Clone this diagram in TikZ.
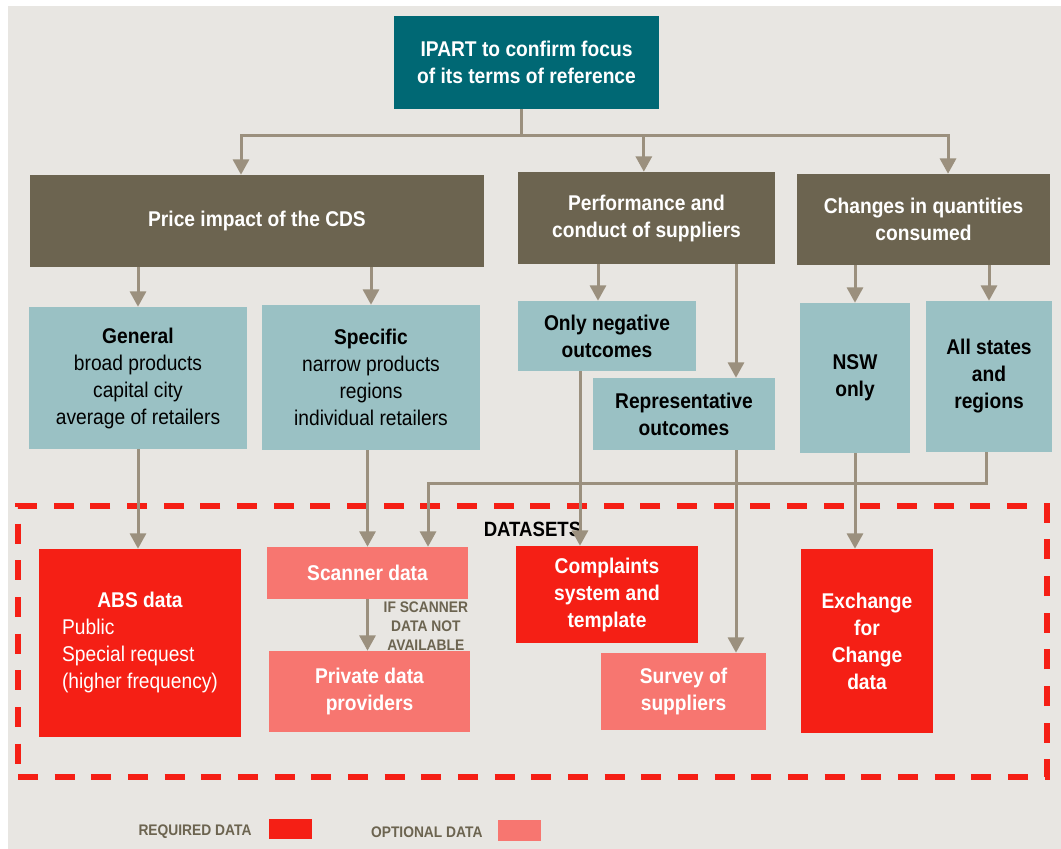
\documentclass[tikz,border=0pt]{standalone}
\usepackage{fontspec}
\setmainfont{Liberation Sans}[FakeStretch=0.9]
\usetikzlibrary{arrows.meta,positioning}

\definecolor{bggrey}{RGB}{232,230,226}
\definecolor{ipartteal}{RGB}{0,104,116}
\definecolor{topicbrown}{RGB}{108,100,80}
\definecolor{aspectblue}{RGB}{154,193,196}
\definecolor{reqred}{RGB}{245,31,21}
\definecolor{optred}{RGB}{247,118,112}
\definecolor{linkgrey}{RGB}{155,144,126}

\tikzset{
  box/.style={inner sep=0pt, align=center, font=\fontsize{16}{20.25}\selectfont\bfseries},
  lead/.style={box, fill=ipartteal, text=white},
  topic/.style={box, fill=topicbrown, text=white},
  aspect/.style={box, fill=aspectblue, text=black},
  required/.style={box, fill=reqred, text=white},
  optional/.style={box, fill=optred, text=white},
  link/.style={draw=linkgrey, line width=2.25pt},
  flow/.style={link, -{Triangle[width=12pt,length=11.5pt]}},
  legendtext/.style={inner sep=0pt, font=\fontsize{11.5}{14.25}\selectfont\bfseries, text=topicbrown},
}

\begin{document}
\begin{tikzpicture}[x=0.75pt,y=-0.75pt]
        \useasboundingbox (0,0) rectangle (1061,849);
        \fill[bggrey] (8,6) rectangle (1061,849);

        % datasets frame
        \node[draw=reqred, line width=4pt, dash pattern=on 15pt off 12.5pt,
              minimum width=771.75pt, minimum height=203.25pt] (dsframe) at (532.5,641.5) {};
        \node[font=\fontsize{15.5}{18}\selectfont\bfseries] (dslabel) at ([yshift=-19.5pt]dsframe.north) {DATASETS};

        \node[lead, minimum width=198.75pt, minimum height=69.75pt] (ipart) at (526.5,62.5) {IPART to confirm focus\\of its terms of reference};

        \node[topic, minimum width=340.5pt, minimum height=69pt] (price) at (257,221) {Price impact of the CDS};
        \node[topic, minimum width=192.75pt, minimum height=69pt] (perf) at (646.5,218) {Performance and\\conduct of suppliers};
        \node[topic, minimum width=189.75pt, minimum height=68.25pt] (changes) at (923.5,219.5) {Changes in quantities\\consumed};

        \node[aspect, minimum width=163.5pt, minimum height=106.5pt] (general) at (138,378) {General\\\mdseries broad products\\\mdseries capital city\\\mdseries average of retailers};
        \node[aspect, minimum width=163.5pt, minimum height=108.75pt] (specific) at (371,377.5) {Specific\\\mdseries narrow products\\\mdseries regions\\\mdseries individual retailers};
        \node[aspect, minimum width=133.5pt, minimum height=52.5pt] (onlyneg) at (607,336) {Only negative\\outcomes};
        \node[aspect, minimum width=136.5pt, minimum height=54pt] (repr) at (684,414) {Representative\\outcomes};
        \node[aspect, minimum width=82.5pt, minimum height=112.5pt] (nsw) at (855,378) {NSW\\only};
        \node[aspect, minimum width=94.5pt, minimum height=113.25pt] (allst) at (989,376.5) {All states\\and\\regions};

        \node[required, minimum width=151.5pt, minimum height=141pt] (abs) at (140,643) {\begin{tabular}{@{}l@{}}\multicolumn{1}{c}{ABS data}\\ \mdseries Public\\ \mdseries Special request\\ \mdseries (higher frequency)\end{tabular}};
        \node[optional, minimum width=150.75pt, minimum height=39pt] (scanner) at (367.5,573) {Scanner data};
        \node[optional, minimum width=150.75pt, minimum height=60.75pt] (private) at (369.5,691.5) {Private data\\providers};
        \node[required, minimum width=136.5pt, minimum height=72.75pt] (complaints) at (607,594.5) {Complaints\\system and\\template};
        \node[optional, minimum width=123.75pt, minimum height=57.75pt] (survey) at (683.5,691.5) {Survey of\\suppliers};
        \node[required, minimum width=99pt, minimum height=138pt] (exchange) at (867,641) {Exchange\\for\\Change\\data};

        \node[legendtext, align=center, anchor=north east] (ifnote) at ([yshift=-1.5pt]scanner.south east) {IF SCANNER\\DATA NOT\\AVAILABLE};

        % connectors
        \coordinate (hub) at (521,136);
        \coordinate (negin) at ([xshift=-6.75pt]onlyneg.north);
        \coordinate (reprin) at ([xshift=39pt]repr.north);
        \coordinate (negout) at ([xshift=-20.25pt]onlyneg.south);
        \coordinate (reprout) at ([xshift=39pt]repr.south);
        \coordinate (scanin) at ([xshift=45.4pt]scanner.north);

        \draw[link] (ipart.south -| hub) -- (hub);
        \draw[flow] (hub) -| ([xshift=-12pt]price.north);
        \draw[flow] (hub) -| ([xshift=-2pt]perf.north);
        \draw[flow] (hub) -| ([xshift=18.4pt]changes.north);

        \draw[flow] (price.south -| general.north) -- (general.north);
        \draw[flow] (price.south -| specific.north) -- (specific.north);
        \draw[flow] (perf.south -| negin) -- (negin);
        \draw[flow] (perf.south -| reprin) -- (reprin);
        \draw[flow] (changes.south -| nsw.north) -- (nsw.north);
        \draw[flow] (changes.south -| allst.north) -- (allst.north);

        \draw[flow] (general.south) -- (general.south |- abs.north);
        \draw[flow] (specific.south -| scanner.north) -- (scanner.north);
        \draw[flow] ([xshift=-2.25pt]allst.south) -- ++(0,31) -| (scanin);
        \draw[flow] (negout) -- (negout |- complaints.north);
        \draw[flow] (reprout) -- (reprout |- survey.north);
        \draw[flow] (nsw.south) -- (nsw.south |- exchange.north);
        \draw[flow] (scanner.south) -- (scanner.south |- private.north);

        % legend
        \node[fill=reqred, inner sep=0pt, minimum width=32.25pt, minimum height=15pt] (legreq) at (290.5,829) {};
        \node[legendtext, left=12.75pt of legreq, yshift=-2pt] (legreqtext) {REQUIRED DATA};
        \node[fill=optred, inner sep=0pt, minimum width=32.25pt, minimum height=15.75pt] (legopt) at (519.5,830.5) {};
        \node[legendtext, left=11.25pt of legopt, yshift=-1pt] (legopttext) {OPTIONAL DATA};
    \end{tikzpicture}
\end{document}
